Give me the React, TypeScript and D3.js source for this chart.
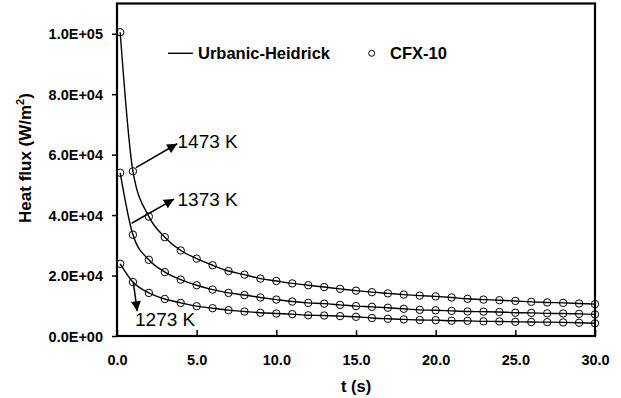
import React, { useEffect, useRef } from 'react'
import * as d3 from 'd3'

// time points (s)
const times = [0.2, 1, 2, 3, 4, 5, 6, 7, 8, 9, 10, 11, 12, 13, 14, 15, 16, 17, 18, 19, 20, 21, 22, 23, 24, 25, 26, 27, 28, 29, 30]

// heat flux (W/m2)
const flux1473 = [100500, 54500, 39500, 32700, 28300, 25600, 23400, 21500, 20300, 19000, 18200, 17400, 16800, 16200, 15600, 15000, 14500, 14100, 13700, 13350, 13100, 12750, 12300, 12050, 11850, 11600, 11300, 11100, 10950, 10750, 10550]
const flux1373 = [54000, 33500, 25200, 21150, 18650, 16800, 15350, 14250, 13550, 12750, 12050, 11400, 10950, 10700, 10300, 9900, 9650, 9350, 9000, 8650, 8500, 8300, 8120, 8050, 7950, 7700, 7650, 7480, 7450, 7320, 7150]
const flux1273 = [23900, 17850, 14250, 12250, 10950, 9870, 9200, 8550, 8100, 7680, 7450, 7230, 6850, 6780, 6580, 6350, 5950, 5700, 5490, 5280, 5250, 5050, 5020, 4850, 4820, 4700, 4620, 4590, 4500, 4380, 4200]

const xTicks = [0, 5, 10, 15, 20, 25, 30]
const yTicks = [0, 20000, 40000, 60000, 80000, 100000]

const legendLabels = ['Urbanic-Heidrick', 'CFX-10']
const tempLabels = ['1473 K', '1373 K', '1273 K']
// arrows in data units: from [t, q] to [t, q]; label anchor [t, q]
const arrowFrom = [[1.19, 55700], [0.92, 37300], [1.02, 17900]]
const arrowTo = [[3.78, 63600], [3.58, 45300], [1.27, 8200]]
const labelAt = [[3.8, 62300], [3.8, 43100], [1.13, 3300]]

const W = 621, H = 398
const marge = { left: 117, top: 3.5, right: 26, bottom: 62 }

const sciFormat = (v: number) => {
  if (v === 0) return '0.0E+00'
  const [m, e] = v.toExponential(1).split('e')
  const n = Math.abs(+e)
  return `${m}E${+e < 0 ? '-' : '+'}${n < 10 ? '0' + n : n}`
}

export default function App() {
  const ref = useRef<SVGSVGElement>(null)

  useEffect(() => {
    document.body.style.margin = '0'
    const svg = d3.select(ref.current)
    svg.selectAll('*').remove()
    const font = '"Liberation Sans", Arial, sans-serif'
    const iw = W - marge.left - marge.right
    const ih = H - marge.top - marge.bottom

    const x = d3.scaleLinear().domain([0, 30]).range([0, iw])
    const y = d3.scaleLinear().domain([0, 110000]).range([ih, 0])

    svg.append('defs').append('marker')
      .attr('id', 'arrow')
      .attr('markerUnits', 'userSpaceOnUse')
      .attr('viewBox', '0 0 10 10')
      .attr('refX', 10).attr('refY', 5)
      .attr('markerWidth', 11).attr('markerHeight', 10)
      .attr('orient', 'auto')
      .append('path').attr('d', 'M0,0L10,5L0,10Z').attr('fill', '#000')

    const g = svg.append('g').attr('transform', `translate(${marge.left},${marge.top})`)

    // axes
    const xAxis = d3.axisBottom(x).tickValues(xTicks).tickSizeInner(-6).tickSizeOuter(0)
      .tickFormat(d => d3.format('.1f')(d as number))
    const gx = g.append('g').attr('transform', `translate(0,${ih})`).call(xAxis)
    gx.select('.domain').remove()
    gx.selectAll('line').attr('stroke', '#000').attr('stroke-width', 1.5)
    gx.selectAll('text').attr('y', 29).attr('dy', null)
      .attr('font-family', font).attr('font-size', 14.5).attr('font-weight', 'bold').attr('fill', '#000')

    const yAxis = d3.axisLeft(y).tickValues(yTicks).tickSizeInner(5).tickSizeOuter(0)
      .tickFormat(d => sciFormat(d as number))
    const gy = g.append('g').call(yAxis)
    gy.select('.domain').remove()
    gy.selectAll('line').attr('stroke', '#000').attr('stroke-width', 1.5)
    gy.selectAll('text').attr('x', -14).attr('dy', '0.36em')
      .attr('font-family', font).attr('font-size', 14.5).attr('font-weight', 'bold').attr('fill', '#000')

    // frame
    g.append('rect').attr('width', iw).attr('height', ih)
      .attr('fill', 'none').attr('stroke', '#000').attr('stroke-width', 2.2)

    // series
    const line = d3.line<number>()
      .x((d, i) => x(times[i]))
      .y(d => y(d))
      .curve(d3.curveMonotoneX)
    const series = [flux1473, flux1373, flux1273]
    series.forEach(s => {
      g.append('path').datum(s).attr('d', line)
        .attr('fill', 'none').attr('stroke', '#000').attr('stroke-width', 1.4)
      g.selectAll(null).data(s).enter().append('circle')
        .attr('cx', (d, i) => x(times[i]))
        .attr('cy', d => y(d))
        .attr('r', 3.7)
        .attr('fill', 'none').attr('stroke', '#000').attr('stroke-width', 1)
    })

    // temperature annotations
    tempLabels.forEach((lab, i) => {
      g.append('line')
        .attr('x1', x(arrowFrom[i][0])).attr('y1', y(arrowFrom[i][1]))
        .attr('x2', x(arrowTo[i][0])).attr('y2', y(arrowTo[i][1]))
        .attr('stroke', '#000').attr('stroke-width', 1.5)
        .attr('marker-end', 'url(#arrow)')
      g.append('text')
        .attr('x', x(labelAt[i][0])).attr('y', y(labelAt[i][1]))
        .attr('font-family', font).attr('font-size', 19).attr('fill', '#000')
        .text(lab)
    })

    // legend
    const lg = svg.append('g')
    lg.append('line').attr('x1', 168).attr('x2', 193).attr('y1', 53.3).attr('y2', 53.3)
      .attr('stroke', '#000').attr('stroke-width', 1.4)
    lg.append('text').attr('x', 198).attr('y', 59.3)
      .attr('font-family', font).attr('font-size', 16.5).attr('font-weight', 'bold')
      .text(legendLabels[0])
    lg.append('circle').attr('cx', 371.7).attr('cy', 53.3).attr('r', 3)
      .attr('fill', 'none').attr('stroke', '#000').attr('stroke-width', 1)
    lg.append('text').attr('x', 390).attr('y', 59.3)
      .attr('font-family', font).attr('font-size', 16.5).attr('font-weight', 'bold')
      .text(legendLabels[1])

    // axis titles
    svg.append('text').attr('x', 356).attr('y', 391.5).attr('text-anchor', 'middle')
      .attr('font-family', font).attr('font-size', 16.5).attr('font-weight', 'bold')
      .text('t (s)')
    const yt = svg.append('text')
      .attr('transform', 'translate(30.5,158) rotate(-90)')
      .attr('text-anchor', 'middle')
      .attr('font-family', font).attr('font-size', 17).attr('font-weight', 'bold')
    yt.append('tspan').text('Heat flux (W/m')
    yt.append('tspan').attr('font-size', 11).attr('dy', -7).text('2')
    yt.append('tspan').attr('dy', 7).text(')')
  }, [])

  return (
    <div>
      <svg ref={ref} width={W} height={H} style={{ display: 'block', background: '#fff' }}></svg>
    </div>
  )
}
